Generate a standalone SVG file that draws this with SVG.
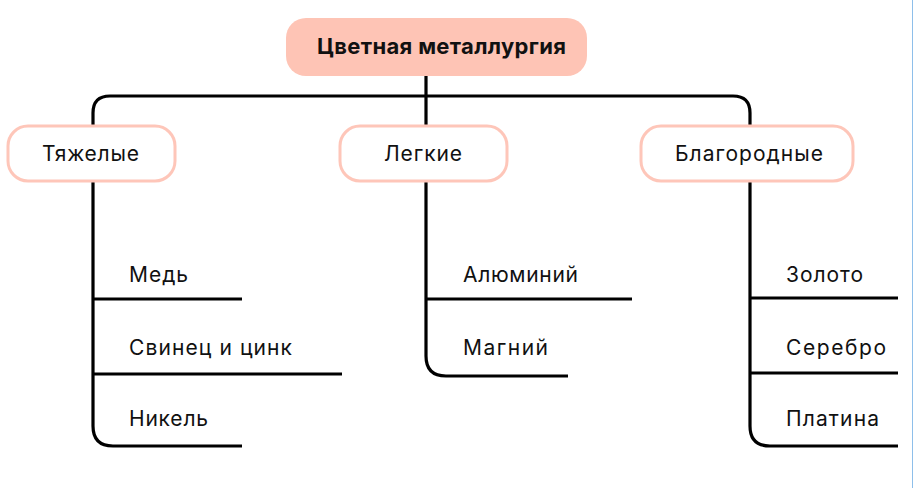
<svg xmlns="http://www.w3.org/2000/svg" width="915" height="488" viewBox="0 0 915 488">
<style>
.ln{fill:none;stroke:#000;stroke-width:3.2;stroke-linecap:butt}
.box{fill:#fff;stroke:#FEC6B9;stroke-width:3}
.t{font-family:"Inter","Liberation Sans",sans-serif;font-size:21px;fill:#111}
.tb{font-family:"Inter","Liberation Sans",sans-serif;font-size:22px;font-weight:700;fill:#111}
</style>
<rect width="915" height="488" fill="#fff"/>
<line x1="912.5" y1="0" x2="912.5" y2="488" stroke="#8EBFEA" stroke-width="1"/>
<g id="connectors">
<path class="ln" d="M426,76 V126"/>
<path class="ln" d="M93,126 V113 Q93,96 110,96 H733 Q750,96 750,113 V126"/>
<path class="ln" d="M93,181 V426 Q93,446 113,446 H242"/>
<path class="ln" d="M93,299 H242"/>
<path class="ln" d="M93,374 H342"/>
<path class="ln" d="M426,181 V356 Q426,376 446,376 H568"/>
<path class="ln" d="M426,299 H632"/>
<path class="ln" d="M750,181 V426 Q750,446 770,446 H898"/>
<path class="ln" d="M750,298 H898"/>
<path class="ln" d="M750,373 H898"/>
</g>
<g id="root">
<rect x="286" y="18" width="301" height="58" rx="20" fill="#FEC4B5"/>
<text class="tb" x="317" y="54" textLength="249" lengthAdjust="spacing">Цветная металлургия</text>
</g>
<g id="heavy">
<rect class="box" x="8" y="126" width="167" height="55" rx="20"/>
<text class="t" x="42" y="161" textLength="97" lengthAdjust="spacing">Тяжелые</text>
</g>
<g id="light">
<rect class="box" x="340" y="126" width="167" height="55" rx="20"/>
<text class="t" x="384" y="161" textLength="78" lengthAdjust="spacing">Легкие</text>
</g>
<g id="noble">
<rect class="box" x="641" y="126" width="212" height="55" rx="20"/>
<text class="t" x="675" y="161" textLength="148" lengthAdjust="spacing">Благородные</text>
</g>
<g id="copper"><text class="t" x="129" y="282" textLength="59" lengthAdjust="spacing">Медь</text></g>
<g id="lead"><text class="t" x="129" y="355" textLength="163" lengthAdjust="spacing">Свинец и цинк</text></g>
<g id="nickel"><text class="t" x="129" y="426" textLength="79" lengthAdjust="spacing">Никель</text></g>
<g id="aluminium"><text class="t" x="463" y="282" textLength="115" lengthAdjust="spacing">Алюминий</text></g>
<g id="magnesium"><text class="t" x="463" y="355" textLength="85" lengthAdjust="spacing">Магний</text></g>
<g id="gold"><text class="t" x="786" y="282" textLength="77" lengthAdjust="spacing">Золото</text></g>
<g id="silver"><text class="t" x="786" y="355" textLength="100" lengthAdjust="spacing">Серебро</text></g>
<g id="platinum"><text class="t" x="786" y="426" textLength="93" lengthAdjust="spacing">Платина</text></g>
</svg>
